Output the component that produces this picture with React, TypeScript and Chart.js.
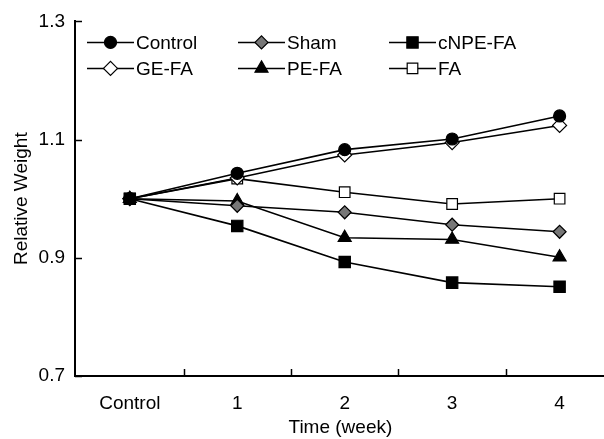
import React, { useEffect, useRef } from "react";
import { Chart, registerables } from "chart.js";
import { drawPoint } from "chart.js/helpers";

Chart.register(...registerables);

const categories = ["Control", "1", "2", "3", "4"];
const controlValues = [1.0, 1.043, 1.083, 1.101, 1.14];
const shamValues = [1.0, 0.988, 0.977, 0.956, 0.944];
const cnpeValues = [1.0, 0.954, 0.893, 0.858, 0.851];
const gefaValues = [1.0, 1.035, 1.074, 1.095, 1.124];
const pefaValues = [1.0, 0.996, 0.934, 0.931, 0.901];
const faValues = [1.0, 1.034, 1.011, 0.991, 1.0];
const yTicks = [0.7, 0.9, 1.1, 1.3];

const FONT = "'Liberation Sans', Arial, sans-serif";

type SeriesDef = {
  label: string;
  values: number[];
  pointStyle: string;
  radius: number;
  fill: string;
};

const series: SeriesDef[] = [
  { label: "Control", values: controlValues, pointStyle: "circle", radius: 6, fill: "#000000" },
  { label: "Sham", values: shamValues, pointStyle: "rectRot", radius: 6.5, fill: "#777777" },
  { label: "cNPE-FA", values: cnpeValues, pointStyle: "rect", radius: 8, fill: "#000000" },
  { label: "GE-FA", values: gefaValues, pointStyle: "rectRot", radius: 7, fill: "#ffffff" },
  { label: "PE-FA", values: pefaValues, pointStyle: "triangle", radius: 7.5, fill: "#000000" },
  { label: "FA", values: faValues, pointStyle: "rect", radius: 7.5, fill: "#ffffff" },
];

const legendPlugin = {
  id: "gridLegend",
  afterDraw(chart: any) {
    const { ctx, chartArea } = chart;
    const cols = [12, 163, 314];
    const rows = [21, 47];
    ctx.save();
    series.forEach((s, i) => {
      const x0 = chartArea.left + cols[i % 3];
      const y = chartArea.top + rows[Math.floor(i / 3)];
      ctx.strokeStyle = "#000";
      ctx.lineWidth = 1.5;
      ctx.beginPath();
      ctx.moveTo(x0, y);
      ctx.lineTo(x0 + 47, y);
      ctx.stroke();
      ctx.fillStyle = s.fill;
      ctx.strokeStyle = "#000";
      ctx.lineWidth = 1.2;
      drawPoint(ctx, { pointStyle: s.pointStyle, radius: s.radius, rotation: 0, borderWidth: 1.2 } as any, x0 + 23.5, y);
      ctx.fillStyle = "#000";
      ctx.font = `19px ${FONT}`;
      ctx.textBaseline = "middle";
      ctx.textAlign = "left";
      ctx.fillText(s.label, x0 + 49, y + 1);
    });
    ctx.restore();
  },
};

const innerTicksPlugin = {
  id: "innerTicks",
  afterDraw(chart: any) {
    const { ctx, chartArea } = chart;
    const xs = chart.scales.x;
    const ys = chart.scales.y;
    ctx.save();
    ctx.strokeStyle = "#000";
    ctx.lineWidth = 1.5;
    yTicks.forEach((v) => {
      const y = Math.round(ys.getPixelForValue(v)) + 0.5;
      ctx.beginPath();
      ctx.moveTo(chartArea.left, y);
      ctx.lineTo(chartArea.left + 7, y);
      ctx.stroke();
    });
    for (let i = 0; i < categories.length - 1; i++) {
      const x = Math.round(xs.getPixelForValue(i + 0.5)) + 0.5;
      ctx.beginPath();
      ctx.moveTo(x, chartArea.bottom);
      ctx.lineTo(x, chartArea.bottom - 7);
      ctx.stroke();
    }
    ctx.restore();
  },
};

export default function App() {
  const ref = useRef<HTMLCanvasElement>(null);
  useEffect(() => {
    document.body.style.margin = "0";
    document.body.style.overflow = "hidden";
    const canvas = ref.current!;
    const chart = new Chart(canvas, {
      type: "line",
      data: {
        datasets: series.map((s) => ({
          label: s.label,
          data: s.values.map((v, i) => ({ x: i, y: v })),
          borderColor: "#000",
          borderWidth: 1.6,
          pointStyle: s.pointStyle as any,
          pointRadius: s.radius,
          pointBackgroundColor: s.fill,
          pointBorderColor: "#000",
          pointBorderWidth: 1.2,
          tension: 0,
          fill: false,
        })),
      },
      options: {
        animation: false,
        responsive: false,
        devicePixelRatio: 1,
        layout: { padding: { top: 20, left: 0, right: 0, bottom: 0 } },
        plugins: {
          legend: { display: false },
          tooltip: { enabled: false },
        },
        scales: {
          x: {
            type: "linear",
            min: -0.51,
            max: 4.43,
            afterBuildTicks: (scale: any) => {
              scale.ticks = categories.map((_, i) => ({ value: i }));
            },
            afterFit: (scale: any) => {
              scale.height = 63;
            },
            grid: { display: false, drawTicks: false },
            border: { display: true, color: "#000", width: 2 },
            ticks: {
              color: "#000",
              font: { family: FONT, size: 19 },
              padding: 16,
              maxRotation: 0,
              autoSkip: false,
              callback: (v: any) => categories[Math.round(Number(v))] ?? "",
            },
            title: {
              display: true,
              text: "Time (week)",
              color: "#000",
              font: { family: FONT, size: 19 },
              padding: { top: 0, bottom: 0 },
            },
          },
          y: {
            min: 0.7,
            max: 1.3,
            afterBuildTicks: (scale: any) => {
              scale.ticks = yTicks.map((v) => ({ value: v }));
            },
            afterFit: (scale: any) => {
              scale.width = 75;
            },
            grid: { display: false, drawTicks: false },
            border: { display: true, color: "#000", width: 2 },
            ticks: {
              color: "#000",
              font: { family: FONT, size: 19 },
              padding: 10,
              callback: (v: any) => Number(v).toFixed(1),
            },
            title: {
              display: true,
              text: "Relative Weight",
              color: "#000",
              font: { family: FONT, size: 19 },
              padding: { top: 10, bottom: 0 },
            },
          },
        },
      },
      plugins: [legendPlugin, innerTicksPlugin],
    });
    return () => chart.destroy();
  }, []);
  return (
    <div style={{ width: 604, height: 439, background: "#fff", overflow: "hidden" }}>
      <canvas ref={ref} width={615} height={439} style={{ display: "block" }} />
    </div>
  );
}
